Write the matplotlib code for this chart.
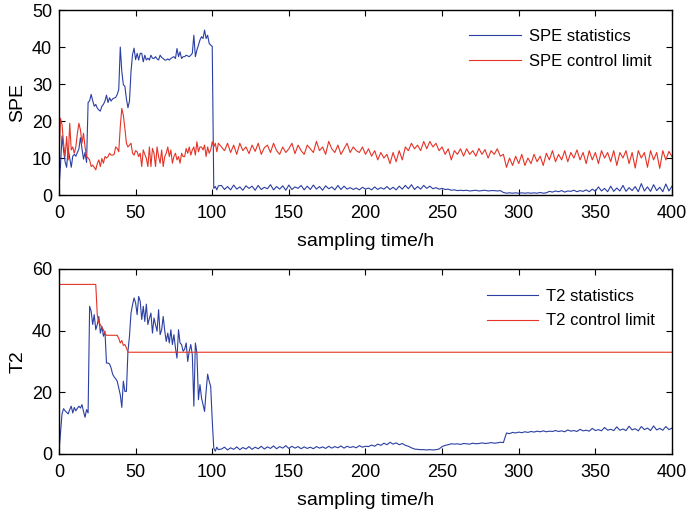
"""SPE and T2 monitoring charts for the process fault test."""

import matplotlib

matplotlib.use("Agg")
import matplotlib.pyplot as plt
import numpy as np

# sampling grid: hourly up to 104 h, every 2 h afterwards
hours_early = np.arange(0, 105)
hours_late = np.arange(106, 401, 2)

spe_stat_early = [
    2, 8, 16, 12, 9, 7.5, 12.5, 10, 7.5, 10.5,
    11, 10.5, 11.5, 12.5, 15.5, 12.5, 9.7, 11.5, 8.8, 25,
    25.5, 27.2, 25.5, 24, 24.5, 23.5, 23, 22.7, 24, 24.5,
    25.4, 27, 25, 26.3, 25.4, 26, 26.2, 26.4, 27.2, 28.5,
    40, 33.4, 29.8, 29.4, 26, 23.6, 25.4, 33.4, 38, 39.7,
    36.6, 38.3, 36.5, 38.3, 38.3, 36, 37.8, 36.5, 37, 36.5,
    37.8, 37, 36.9, 37.4, 36.8, 36.5, 37.8, 37.2, 36.9, 36.5,
    36.5, 36.8, 36.5, 36.9, 37.2, 37.4, 36.9, 39.6, 37.4, 38.7,
    36.9, 37.4, 37.4, 37.8, 37.6, 37.4, 37.8, 38.3, 43.2, 37.4,
    39.2, 40.5, 41.9, 42.8, 42.3, 44.6, 42.3, 43.2, 41, 40.5,
    40.2, 1.8, 2.3, 1.4, 2.5,
]
spe_stat_late = [
    2.6, 1.5, 2.3, 1.4, 2.7, 1.6, 2.2, 1.3, 2.5, 1.8,
    2.4, 1.3, 2.6, 1.5, 2.1, 1.7, 2.8, 1.4, 2.3, 1.6,
    2.5, 1.3, 2.7, 1.5, 2.2, 1.8, 2.6, 1.4, 2.4, 1.5,
    2.7, 1.6, 2.3, 1.3, 2.5, 1.7, 2.2, 1.4, 2.6, 1.5,
    2.4, 1.6, 2.0, 1.5, 1.9, 1.4, 2.1, 1.6, 1.9, 1.4,
    2.2, 1.5, 2.0, 1.6, 2.3, 1.5, 2.1, 1.4, 2.4, 1.6,
    2.6, 1.7, 2.8, 1.5, 2.3, 1.6, 2.6, 1.8, 2.4, 1.7,
    2.0, 1.6, 1.8, 1.5, 1.6, 1.3, 1.4, 1.2, 1.3, 1.2,
    1.3, 1.1, 1.2, 1.3, 1.1, 1.2, 1.3, 1.1, 1.2, 1.2,
    1.1, 1.2, 0.7, 0.5, 0.6, 0.5, 0.6, 0.5, 0.6, 0.5,
    0.6, 0.5, 0.6, 0.5, 0.7, 0.5, 0.6, 1.0, 0.8, 1.1,
    0.9, 1.2, 0.8, 1.1, 1.0, 1.3, 0.9, 1.2, 1.0, 1.4,
    0.9, 1.6, 1.0, 2.2, 1.1, 1.8, 0.9, 2.4, 1.0, 1.9,
    1.1, 2.6, 1.0, 2.0, 1.2, 2.3, 0.9, 3.1, 1.1, 2.2,
    1.0, 2.8, 1.2, 2.1, 0.9, 3.0, 1.1, 2.4,
]

spe_limit_early = [
    10.4, 20.7, 19, 14, 10.4, 15.8, 9.5, 19.4, 12.2, 13,
    11.3, 13, 16.7, 19.4, 17.6, 14, 16.7, 13, 10.4, 10,
    9.5, 7.7, 8.1, 7.5, 6.8, 8.5, 9.5, 7.7, 9.9, 8.6,
    10.4, 10, 10.4, 11.3, 10.8, 10.8, 11, 13, 12.6, 11.7,
    18.5, 23.4, 21.6, 18, 14, 13, 13.5, 14, 11.3, 10.8,
    12, 11.7, 10.4, 11.3, 7.7, 12.2, 11, 9.9, 7.7, 13,
    7.7, 12.6, 11.3, 7.7, 13, 10.4, 8.6, 12.2, 7.7, 10.4,
    11.3, 13, 10.4, 12.2, 8.6, 10.4, 11.3, 9.5, 10.4, 8.6,
    11.3, 10.4, 10.4, 12.6, 11.3, 13, 10.8, 12.2, 13, 10.8,
    14.4, 11.7, 13, 13, 12.2, 13.5, 10.4, 13, 11.3, 12.2,
    14.4, 13, 14, 11.7, 14,
]
spe_limit_late = [
    13, 12, 14, 11.5, 13.5, 11, 14, 12, 13, 11.2,
    13.5, 11.8, 14, 11, 12.8, 13.5, 11.5, 14, 12, 11,
    13, 11.5, 12.5, 14, 11.2, 13.5, 12, 11, 13.5, 12.5,
    11.5, 14.5, 12, 13, 11, 14.5, 12.5, 11.5, 13.5, 11,
    12.5, 14, 11.5, 13, 12, 11.5, 13, 11, 12.5, 10.5,
    12, 9.5, 11.5, 10, 11, 8.5, 11.5, 9, 12, 9.5,
    13, 12, 14, 12.5, 13.5, 12, 14.5, 12.5, 14.5, 13,
    14, 12, 13, 11, 12.5, 9.5, 12, 11, 12.5, 10.5,
    12.5, 11, 12, 10.5, 12.6, 11, 12.3, 10, 12, 11,
    12.5, 10.5, 11, 7.5, 10, 8, 10.5, 8.5, 11, 8,
    10, 8.5, 11, 9, 10.5, 8, 11.3, 9.5, 12, 9,
    11, 9.5, 12, 9, 11.5, 10, 12.2, 9.5, 11.5, 8.5,
    12, 9.5, 11.5, 8.5, 12, 10, 11.5, 9, 12, 8,
    11.5, 10, 12, 8.5, 11.5, 7.3, 12, 10, 11.5, 7.5,
    12, 9.5, 11.5, 7.2, 12, 9.5, 11.8, 10.4,
]

t2_stat_early = [
    0.9, 7, 13, 14.7, 14, 13.5, 13, 14.4, 15.5, 13.3,
    15.1, 14, 14.8, 15.5, 14.9, 16, 13.8, 11.9, 14.4, 13.3,
    47.9, 46.3, 42, 45.2, 40.3, 42, 44.6, 39.2, 41.4, 38.2,
    39.8, 29.5, 29.5, 29.2, 27.9, 25.9, 25, 24.4, 23.6, 21.4,
    19.2, 15.1, 23.6, 20.3, 20.3, 33.3, 38.2, 45.7, 48.4, 50.6,
    49, 45.2, 51.1, 49.5, 43.6, 47.9, 43, 48.6, 42, 44,
    45.7, 39.2, 44.1, 42, 39.8, 46.8, 38.7, 40.3, 44.6, 40,
    36.5, 39.2, 36, 40.3, 35.5, 38.7, 34.4, 31.1, 40.3, 36,
    35.5, 33.3, 34, 36, 30, 33.3, 35.5, 32.2, 15.5, 36,
    32.8, 17.6, 22.5, 18.2, 16, 13.8, 20.3, 25.9, 23.6, 21.9,
    11, 1.9, 0.9, 2.2, 1.4,
]
t2_stat_late = [
    1.6, 2.2, 1.3, 2.0, 1.5, 2.3, 1.4, 2.1, 1.6, 2.4,
    1.5, 2.2, 1.7, 2.5, 1.6, 2.3, 1.8, 2.6, 1.7, 2.4,
    1.9, 2.7, 1.8, 2.5, 1.9, 2.4, 1.7, 2.3, 1.8, 2.2,
    1.7, 2.4, 1.9, 2.3, 1.8, 2.5, 1.9, 2.4, 2.0, 2.6,
    1.9, 2.5, 2.1, 2.4, 2.0, 2.7, 2.2, 2.5, 2.4, 2.9,
    2.5, 3.2, 2.8, 3.5, 3.0, 3.8, 3.2, 3.6, 3.0, 3.4,
    2.8, 2.5, 2.0, 1.6, 1.5, 1.4, 1.4, 1.3, 1.4, 1.3,
    1.4, 1.6, 2.4, 2.8, 3.0, 3.3, 3.2, 3.3, 3.1, 3.4,
    3.3, 3.2, 3.5, 3.3, 3.4, 3.6, 3.4, 3.5, 3.7, 3.5,
    3.6, 3.8, 3.7, 6.8, 6.6, 7.0, 6.8, 7.1, 6.9, 7.2,
    7.0, 7.3, 7.1, 7.4, 7.2, 7.5, 7.2, 7.4, 7.3, 7.6,
    7.3, 7.5, 7.2, 7.8, 7.4, 7.6, 7.3, 8.0, 7.5, 7.7,
    7.4, 8.3, 7.6, 7.9, 7.5, 8.6, 7.7, 8.0, 7.6, 8.8,
    7.7, 8.1, 7.6, 9.0, 7.8, 8.2, 7.5, 8.9, 7.9, 8.4,
    7.6, 9.1, 7.8, 8.3, 7.7, 8.9, 7.9, 8.4,
]

# T2 control limit is piecewise: breakpoints in hours and values
t2_limit_hours = [0, 24, 25, 26, 27, 28, 29, 30, 31, 38, 39, 40, 41, 42, 43, 44, 45, 400]
t2_limit_values = [55, 55, 45, 42.5, 42, 41, 40.3, 39, 38.5, 38.5, 37.5, 36, 36.8, 35.2, 35.5, 34.4, 33, 33]

x_ticks = np.arange(0, 401, 50)
spe_ticks = np.arange(0, 51, 10)
t2_ticks = np.arange(0, 61, 20)

BLUE = "#2b3fa3"
RED = "#e63327"

plt.rcParams["font.family"] = ["Liberation Sans", "DejaVu Sans"]

hours = np.concatenate([hours_early, hours_late])


def _style_axis(axis, yticks, ylim, ylabel):
    axis.set_xlim(0, 400)
    axis.set_ylim(*ylim)
    axis.set_xticks(x_ticks)
    axis.set_yticks(yticks)
    axis.tick_params(direction="in", top=True, right=True, length=4, width=0.8,
                     labelsize=13, pad=7)
    axis.tick_params(axis="y", pad=5)
    for spine in axis.spines.values():
        spine.set_linewidth(1.0)
    axis.set_xlabel("sampling time/h", fontsize=14, labelpad=8)
    axis.set_ylabel(ylabel, fontsize=14, labelpad=4)


figure = plt.figure(figsize=(6.89, 5.16), dpi=100)
top = figure.add_axes([0.0856, 0.622, 0.8897, 0.3585])
bottom = figure.add_axes([0.0856, 0.1202, 0.8897, 0.3585])

top.plot(hours, spe_stat_early + spe_stat_late, color=BLUE, lw=0.8, label="SPE statistics")
top.plot(hours, spe_limit_early + spe_limit_late, color=RED, lw=0.8, label="SPE control limit")
_style_axis(top, spe_ticks, (0, 50), "SPE")
top.legend(loc="upper left", bbox_to_anchor=(0.645, 0.978), frameon=False, fontsize=12,
           handlelength=3.1, handletextpad=0.45, labelspacing=0.57)

bottom.plot(hours, t2_stat_early + t2_stat_late, color=BLUE, lw=0.8, label="T2 statistics")
bottom.plot(t2_limit_hours, t2_limit_values, color=RED, lw=0.8, label="T2 control limit")
_style_axis(bottom, t2_ticks, (0, 60), "T2")
bottom.legend(loc="upper left", bbox_to_anchor=(0.673, 0.973), frameon=False, fontsize=12,
              handlelength=3.1, handletextpad=0.45, labelspacing=0.57)

figure.savefig("out.png", dpi=100)
plt.close(figure)
